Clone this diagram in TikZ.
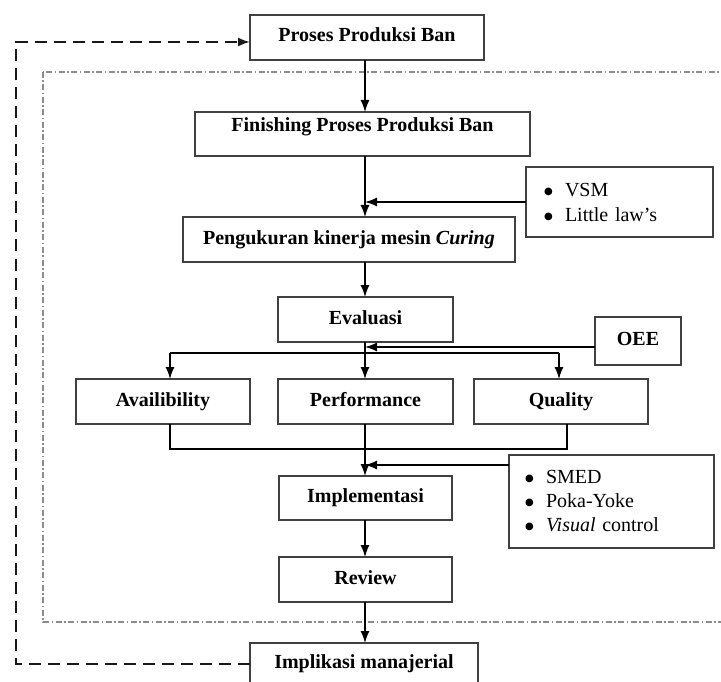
\documentclass[tikz,border=0pt]{standalone}
\usepackage{fontspec}
\setmainfont{Liberation Serif}
\newfontfamily\dvsfont{DejaVu Sans}
\usetikzlibrary{arrows.meta}
\newcommand\lbul{\makebox[21pt][l]{\raisebox{2pt}{\dvsfont\fontsize{10}{10}\selectfont ●}}}
\begin{document}
\begin{tikzpicture}[x=1pt,y=-1pt,
  box/.style={draw=black!75, line width=1.3pt, fill=white,
    font=\fontsize{20}{24}\selectfont\bfseries,
    text height=13pt, text depth=4pt, inner sep=0pt, outer sep=0pt,
    anchor=north west},
  listbox/.style={draw=black!75, line width=1.3pt, fill=white,
    font=\fontsize{20}{25}\selectfont, align=left,
    inner ysep=0pt, outer sep=0pt, anchor=north west},
  conn/.style={draw=black, line width=1.3pt},
  arr/.style={conn, -{Latex[length=12pt,width=9pt]}},
  dsh/.style={draw=black!90, line width=2pt, dash pattern=on 12pt off 7pt,
    -{Latex[length=12pt,width=9pt]}},
  frame/.style={draw=black!45, line width=1.2pt,
    dash pattern=on 6pt off 2.5pt on 1.5pt off 2.5pt}
]
\useasboundingbox (0,0) rectangle (721,682);
\clip (0,0) rectangle (721,682);

% dash-dot frame
\draw[frame] (43,72) rectangle (760,622);

% nodes
\node[box, minimum width=234pt, minimum height=45pt] (top) at (250,15) {Proses Produksi Ban};
\node[box, minimum width=335pt, minimum height=44pt, text depth=18pt] (fin) at (195,112) {Finishing Proses Produksi Ban};
\node[box, minimum width=332pt, minimum height=45pt] (peng) at (183,217) {Pengukuran kinerja mesin \textit{Curing}};
\node[listbox, minimum height=70pt, inner xsep=18pt, text width=151pt] (vsm) at (526,167) {\lbul VSM\\\lbul Little law’s};
\node[box, minimum width=175pt, minimum height=45pt] (eval) at (278,297) {Evaluasi};
\node[box, minimum width=86pt, minimum height=48pt] (oee) at (595,317) {OEE};
\node[box, minimum width=174pt, minimum height=45pt] (avail) at (76,379) {Availibility};
\node[box, minimum width=175pt, minimum height=45pt] (perf) at (278,379) {Performance};
\node[box, minimum width=174pt, minimum height=45pt] (qual) at (474,379) {Quality};
\node[listbox, minimum height=93pt, inner xsep=16pt, text width=173pt, font=\fontsize{20}{24}\selectfont] (smed) at (509,455) {\lbul SMED\\\lbul Poka-Yoke\\\lbul \textit{Visual} control};
\node[box, minimum width=173pt, minimum height=44pt] (impl) at (279,476) {Implementasi};
\node[box, minimum width=173pt, minimum height=45pt] (rev) at (279,557) {Review};
\node[box, minimum width=228pt, minimum height=41pt] (imp) at (250,643) {Implikasi manajerial};

% helper coordinates
\coordinate (sp) at (365,0);
\coordinate (fa) at (170,353);
\coordinate (fq) at (559,353);
\coordinate (ja) at (170,449);
\coordinate (jq) at (567,449);
\coordinate (dl) at (16,0);
\coordinate (ta) at ([yshift=-4.5pt]top.west);
\coordinate (oe) at ([yshift=-6pt]oee.west);
\coordinate (sm) at ([yshift=-10pt]smed.north west);

% connectors
\draw[arr] (top.south -| sp) -- (fin.north -| sp);
\draw[arr] (fin.south -| sp) -- (peng.north -| sp);
\draw[arr] (vsm.west) -- (vsm.west -| sp);
\draw[arr] (peng.south -| sp) -- (eval.north -| sp);
\draw[arr] (eval.south -| sp) -- (perf.north -| sp);
\draw[conn] (fa) -- (fq);
\draw[arr] (fa) -- (avail.north -| fa);
\draw[arr] (fq) -- (qual.north -| fq);
\draw[arr] (oe) -- (oe -| sp);
\draw[conn] (avail.south -| ja) -- (ja) -- (jq) -- (qual.south -| jq);
\draw[arr] (perf.south -| sp) -- (impl.north -| sp);
\draw[arr] (sm) -- (sm -| sp);
\draw[arr] (impl.south -| sp) -- (rev.north -| sp);
\draw[arr] (rev.south -| sp) -- (imp.north -| sp);
\draw[dsh] (imp.west) -- (imp.west -| dl) -- (ta -| dl) -- (ta);
\end{tikzpicture}
\end{document}
